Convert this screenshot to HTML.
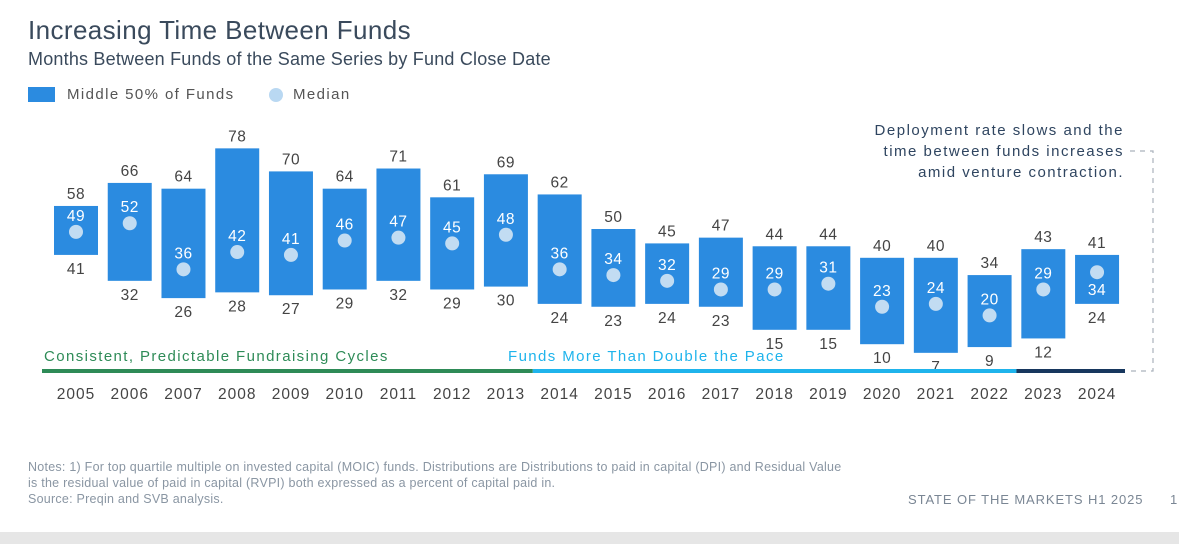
<!DOCTYPE html>
<html><head><meta charset="utf-8"><style>
body{margin:0;width:1179px;height:544px;background:#fff;overflow:hidden;font-family:"Liberation Sans",sans-serif;position:relative}
.t{position:absolute;white-space:nowrap}
</style></head><body>
<div class="t" style="left:28px;top:15px;font-size:26px;letter-spacing:0.4px;color:#3a4a5c">Increasing Time Between Funds</div>
<div class="t" style="left:28px;top:49px;font-size:18px;letter-spacing:0.2px;color:#3a4a5c">Months Between Funds of the Same Series by Fund Close Date</div>
<div style="position:absolute;left:28px;top:87px;width:27px;height:15px;background:#2b8be0"></div>
<div class="t" style="left:67px;top:86px;font-size:15px;letter-spacing:1.4px;color:#555">Middle 50% of Funds</div>
<div style="position:absolute;left:269px;top:88px;width:14px;height:14px;border-radius:50%;background:#b9d8f2"></div>
<div class="t" style="left:293px;top:86px;font-size:15px;letter-spacing:1.4px;color:#555">Median</div>
<div class="t" style="right:55px;top:120px;font-size:15px;letter-spacing:1.5px;color:#2f4560;text-align:right;line-height:21px">Deployment rate slows and the<br>time between funds increases<br>amid venture contraction.</div>
<svg id="c" width="1179" height="544" style="position:absolute;left:0;top:0"></svg>
<div class="t" style="left:28px;top:459px;font-size:12.5px;letter-spacing:0.25px;color:#8a96a3;line-height:16px">Notes: 1) For top quartile multiple on invested capital (MOIC) funds. Distributions are Distributions to paid in capital (DPI) and Residual Value<br>is the residual value of paid in capital (RVPI) both expressed as a percent of capital paid in.<br>Source: Preqin and SVB analysis.</div>
<div class="t" style="left:908px;top:492px;font-size:13px;color:#7a8694;letter-spacing:0.9px">STATE OF THE MARKETS H1 2025</div>
<div class="t" style="left:1170px;top:492px;font-size:13px;color:#7a8694">1</div>
<div style="position:absolute;left:0;top:532px;width:1179px;height:12px;background:#e6e6e6"></div>
<script>
const years=["2005","2006","2007","2008","2009","2010","2011","2012","2013","2014","2015","2016","2017","2018","2019","2020","2021","2022","2023","2024"];
const highs=[58,66,64,78,70,64,71,61,69,62,50,45,47,44,44,40,40,34,43,41];
const lows=[41,32,26,28,27,29,32,29,30,24,23,24,23,15,15,10,7,9,12,24];
const medians=[49,52,36,42,41,46,47,45,48,36,34,32,29,29,31,23,24,20,29,34];
const medianDots=[49,52,36,42,41,46,47,45,48,36,34,32,29,29,31,23,24,20,29,35];
const phases=[{label:"Consistent, Predictable Fundraising Cycles",from:0,to:8.5,color:"#2e8b57"},{label:"Funds More Than Double the Pace",from:8.5,to:17.5,color:"#1fb4ec"},{label:"",from:17.5,to:19.5,color:"#17375e"}];
const svg=document.getElementById('c');const NS="http://www.w3.org/2000/svg";
const x=i=>76+i*53.74, y=v=>373-v*2.88;
function mk(t,a){const e=document.createElementNS(NS,t);for(const k in a)e.setAttribute(k,a[k]);svg.appendChild(e);return e;}
function txt(s,xx,yy,fill,size,ls){const e=mk('text',{x:xx,y:yy,fill:fill,'font-size':size,'text-anchor':'middle','font-family':'Liberation Sans, sans-serif','letter-spacing':ls||0.5});e.textContent=s;return e;}
years.forEach((yr,i)=>{
 const cx=x(i);
 const r=mk('rect',{x:cx-22,y:y(highs[i]),width:44,height:y(lows[i])-y(highs[i]),fill:'#2b8be0'});
 
 const d=mk('circle',{cx:cx,cy:y(medianDots[i]),r:7,fill:'#c2dcf2'});
 
 const below=i===19;
 const ml=txt(String(medians[i]),cx,below?y(medianDots[i])+23:y(medianDots[i])-11,'#fff',15.5);
 
 const hl=txt(String(highs[i]),cx,y(highs[i])-7,'#444',15.5);
 
 const ll=txt(String(lows[i]),cx,y(lows[i])+19,'#444',15.5);
 
 const yl=txt(yr,cx,399,'#444',15.5,1);
 
});
phases.forEach((p,i)=>{
 const x1=i===0?42:x(p.from),x2=i===2?1125:x(p.to);
 const l=mk('rect',{x:x1,y:369,width:x2-x1,height:4,fill:p.color});
 
 if(p.label){const t=txt(p.label,0,361,p.color,15,1.4);t.setAttribute('text-anchor','start');t.setAttribute('x',i===0?44:508);
 }
});
const b=mk('path',{d:'M1130 151 H1153 V371 H1130',fill:'none',stroke:'#aab2bc','stroke-width':1.2,'stroke-dasharray':'5 5'});

</script>
</body></html>
